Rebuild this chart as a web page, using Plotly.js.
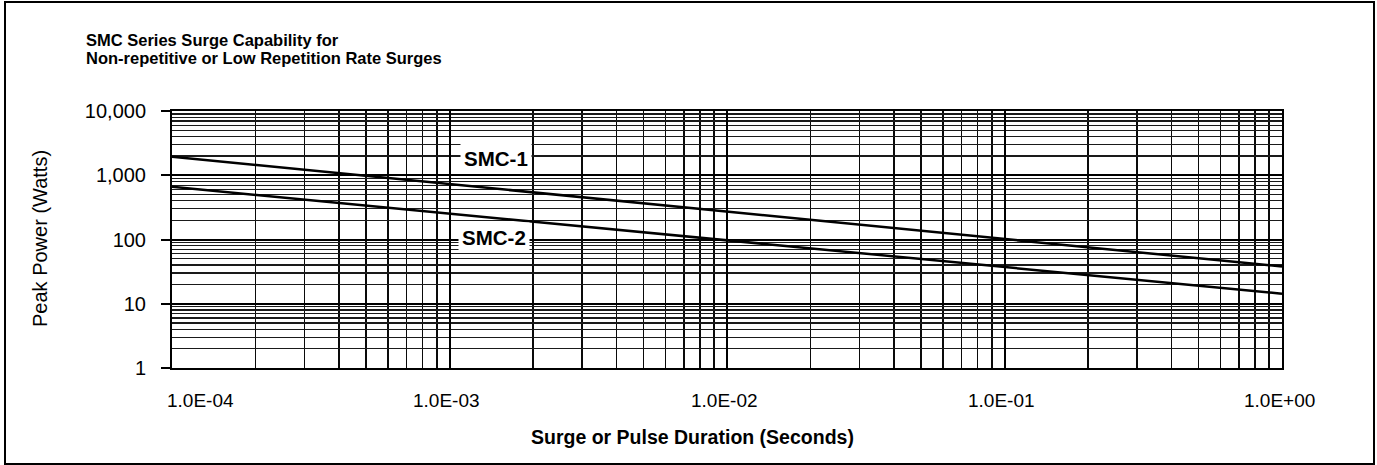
<!DOCTYPE html>
<html>
<head>
<meta charset="utf-8">
<script src="https://cdn.plot.ly/plotly-3.0.1.min.js"></script>
<style>
  html, body { margin: 0; padding: 0; background: #fff; }
  #wrap { position: relative; width: 1377px; height: 465px; }
  #chart { position: absolute; left: 0; top: 0; width: 1377px; height: 465px; }
  #frame { position: absolute; left: 4px; top: 1px; width: 1367px; height: 460px;
           border: 2px solid #000; pointer-events: none; }
</style>
</head>
<body>
<div id="wrap">
  <div id="chart"></div>
  <div id="frame"></div>
</div>
<script>
// ---- data ----
const duration = [1e-4, 1];            // seconds
const smc1Power = [1950, 38];           // watts
const smc2Power = [660, 14.3];          // watts
const seriesNames = ["SMC-1", "SMC-2"];
const xTickVals = [1e-4, 1e-3, 1e-2, 1e-1, 1];
const xTickText = ["1.0E-04", "1.0E-03", "1.0E-02", "1.0E-01", "1.0E+00"];
const yTickVals = [1, 10, 100, 1000, 10000];
const yTickText = ["1", "10", "100", "1,000", "10,000"];
const titleLines = ["SMC Series Surge Capability for", "Non-repetitive or Low Repetition Rate Surges"];
const xTitle = "Surge or Pulse Duration (Seconds)";
const yTitle = "Peak Power (Watts)";
// label anchor points (duration, power)
const labelX = [0.00147, 0.00145];
const labelY = [1850, 108];

const FONT = "Liberation Sans, Arial, Helvetica, sans-serif";

const traces = [
  { x: duration, y: smc1Power, name: seriesNames[0], mode: "lines",
    line: { color: "#000", width: 2.5 }, hoverinfo: "skip" },
  { x: duration, y: smc2Power, name: seriesNames[1], mode: "lines",
    line: { color: "#000", width: 2.5 }, hoverinfo: "skip" }
];

const PX = 1110, PY = 257, L = 172, T = 111, B = 368;
const annotations = [
  { text: "<b>" + titleLines[0] + "</b>", xref: "paper", yref: "paper",
    x: (84 - L) / PX, y: 1 + (T - 39.5) / PY, xanchor: "left", yanchor: "middle",
    showarrow: false, font: { family: FONT, size: 16.5, color: "#000" } },
  { text: "<b>" + titleLines[1] + "</b>", xref: "paper", yref: "paper",
    x: (84 - L) / PX, y: 1 + (T - 57.5) / PY, xanchor: "left", yanchor: "middle",
    showarrow: false, font: { family: FONT, size: 16.5, color: "#000" } },
  { text: yTitle, xref: "paper", yref: "paper", textangle: -90,
    x: (40 - L) / PX, y: (B - 239) / PY, xanchor: "center", yanchor: "middle",
    showarrow: false, font: { family: FONT, size: 20, color: "#000" } },
  { text: "<b>" + xTitle + "</b>", xref: "paper", yref: "paper",
    x: (692 - L) / PX, y: -(437 - B) / PY, xanchor: "center", yanchor: "middle",
    showarrow: false, font: { family: FONT, size: 19.5, color: "#000" } }
];
// x tick labels (first one sits shifted right, as in the original)
xTickVals.forEach((v, i) => {
  annotations.push({ text: xTickText[i], x: Math.log10(v), xref: "x",
    y: -(400 - B) / PY, yref: "paper", xanchor: "center", yanchor: "middle",
    xshift: i === 0 ? 28 : -3, showarrow: false,
    font: { family: FONT, size: 19, color: "#000" } });
});
seriesNames.forEach((n, i) => {
  annotations.push({ text: "<b>" + n + "</b>", x: Math.log10(labelX[i]), y: Math.log10(labelY[i]),
    xref: "x", yref: "y", showarrow: false, bgcolor: "#fff", borderpad: 3,
    font: { family: FONT, size: 20.5, color: "#000" } });
});

const layout = {
  width: 1377, height: 465,
  margin: { l: 172, r: 95, t: 111, b: 97, pad: 0 },
  paper_bgcolor: "#fff", plot_bgcolor: "#fff",
  showlegend: false,
  font: { family: FONT, size: 19, color: "#000" },
  xaxis: {
    type: "log", range: [-4, 0],
    tickmode: "array", tickvals: xTickVals, showticklabels: false,
    ticks: "", showgrid: true, gridcolor: "#000", gridwidth: 2,
    minor: { dtick: "D1", showgrid: true, gridcolor: "#0a0a0a", gridwidth: 1.7, ticks: "" },
    showline: true, linecolor: "#000", linewidth: 2, mirror: true,
    zeroline: false
  },
  yaxis: {
    type: "log", range: [0, 4],
    tickmode: "array", tickvals: yTickVals, ticktext: yTickText,
    ticks: "outside", ticklen: 9, tickwidth: 2, tickcolor: "#000",
    showgrid: true, gridcolor: "#000", gridwidth: 2,
    minor: { dtick: "D1", showgrid: true, gridcolor: "#1a1a1a", gridwidth: 1.2, ticks: "" },
    showline: true, linecolor: "#000", linewidth: 2, mirror: true,
    zeroline: false, tickfont: { family: FONT, size: 20, color: "#000" },
    ticklabelstandoff: 11
  },
  annotations: annotations
};

Plotly.newPlot("chart", traces, layout, { staticPlot: true, displayModeBar: false });
</script>
</body>
</html>
